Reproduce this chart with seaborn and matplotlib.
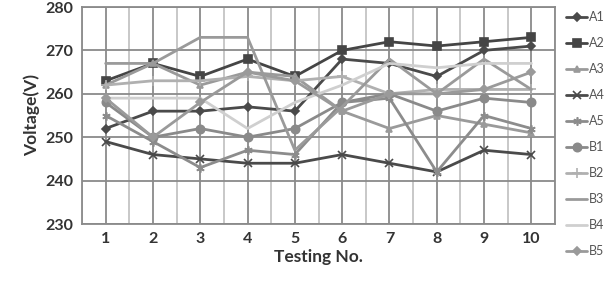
import numpy as np
import pandas as pd
import matplotlib
matplotlib.use("Agg")
import matplotlib.pyplot as plt
import seaborn as sns

tests = [1, 2, 3, 4, 5, 6, 7, 8, 9, 10]
A1 = [252, 256, 256, 257, 256, 268, 267, 264, 270, 271]
A2 = [263, 267, 264, 268, 264, 270, 272, 271, 272, 273]
A3 = [262, 267, 262, 265, 264, 256, 252, 255, 253, 251]
A4 = [249, 246, 245, 244, 244, 246, 244, 242, 247, 246]
A5 = [255, 249, 243, 247, 246, 258, 259, 242, 255, 252]
B1 = [258, 250, 252, 250, 252, 258, 260, 256, 259, 258]
B2 = [262, 263, 263, 264, 263, 264, 260, 261, 261, 261]
B3 = [267, 267, 273, 273, 247, 257, 268, 260, 268, 261]
B4 = [259, 259, 259, 252, 258, 262, 267, 266, 267, 267]
B5 = [259, 250, 258, 265, 263, 256, 260, 260, 261, 265]
names = ["A1", "A2", "A3", "A4", "A5", "B1", "B2", "B3", "B4", "B5"]
series = [A1, A2, A3, A4, A5, B1, B2, B3, B4, B5]

colors = ["#4a4a4a", "#454545", "#9a9a9a", "#4a4a4a", "#8c8c8c",
          "#8a8a8a", "#b0b0b0", "#9a9a9a", "#cfcfcf", "#9a9a9a"]
markers = ["D", "s", "^", "x", (6, 2, 0), "o", "+", "", "", "D"]
msizes = [4, 6, 5, 6, 6, 6, 7, 0, 0, 4]

sns.set_theme(style="white")
plt.rcParams["font.family"] = ["Lato", "DejaVu Sans"]

fig = plt.figure(figsize=(6.11, 2.87), dpi=100)
ax = fig.add_axes([82/611, 1-224/287, (555-82)/611, (224-7)/287])

for name, vals, c, m, ms in zip(names, series, colors, markers, msizes):
    df = pd.DataFrame({"Testing No.": tests, "V": vals})
    sns.lineplot(data=df, x="Testing No.", y="V", ax=ax, color=c, linewidth=2,
                 marker=m if m else None, markersize=ms, markeredgecolor=c,
                 markeredgewidth=1.2, label=name)

ax.set_xlim(0.5, 10.5)
ax.set_ylim(230, 280)
ax.set_xticks(tests)
ax.set_yticks([230, 240, 250, 260, 270, 280])
ax.set_xticks(np.arange(0.5, 10.6, 1.0), minor=True)
ax.grid(True, which="major", axis="both", color="#8a8a8a", linewidth=1.3)
ax.grid(True, which="minor", axis="x", color="#c4c4c4", linewidth=1.3)
ax.tick_params(axis="both", which="both", length=0, labelsize=11.5, pad=6)
for lab in ax.get_xticklabels() + ax.get_yticklabels():
    lab.set_fontweight("bold")
    lab.set_color("#333333")
for s in ax.spines.values():
    s.set_color("#8a8a8a")
    s.set_linewidth(1.3)
ax.set_xlabel("Testing No.", fontsize=12.5, fontweight="bold", color="#333333", labelpad=2)
ax.set_ylabel("Voltage(V)", fontsize=12.5, fontweight="bold", color="#333333", labelpad=4)

handles, labels = ax.get_legend_handles_labels()
ax.get_legend().remove()
leg = fig.legend(handles, labels, loc="upper left",
                 bbox_to_anchor=(566/611, 1 - 11/287), frameon=False,
                 fontsize=9, handlelength=1.7, handletextpad=0.15,
                 labelspacing=1.12, borderaxespad=0.0, borderpad=0.0)
for t in leg.get_texts():
    t.set_color("#555555")

fig.savefig("out.png", dpi=100)
